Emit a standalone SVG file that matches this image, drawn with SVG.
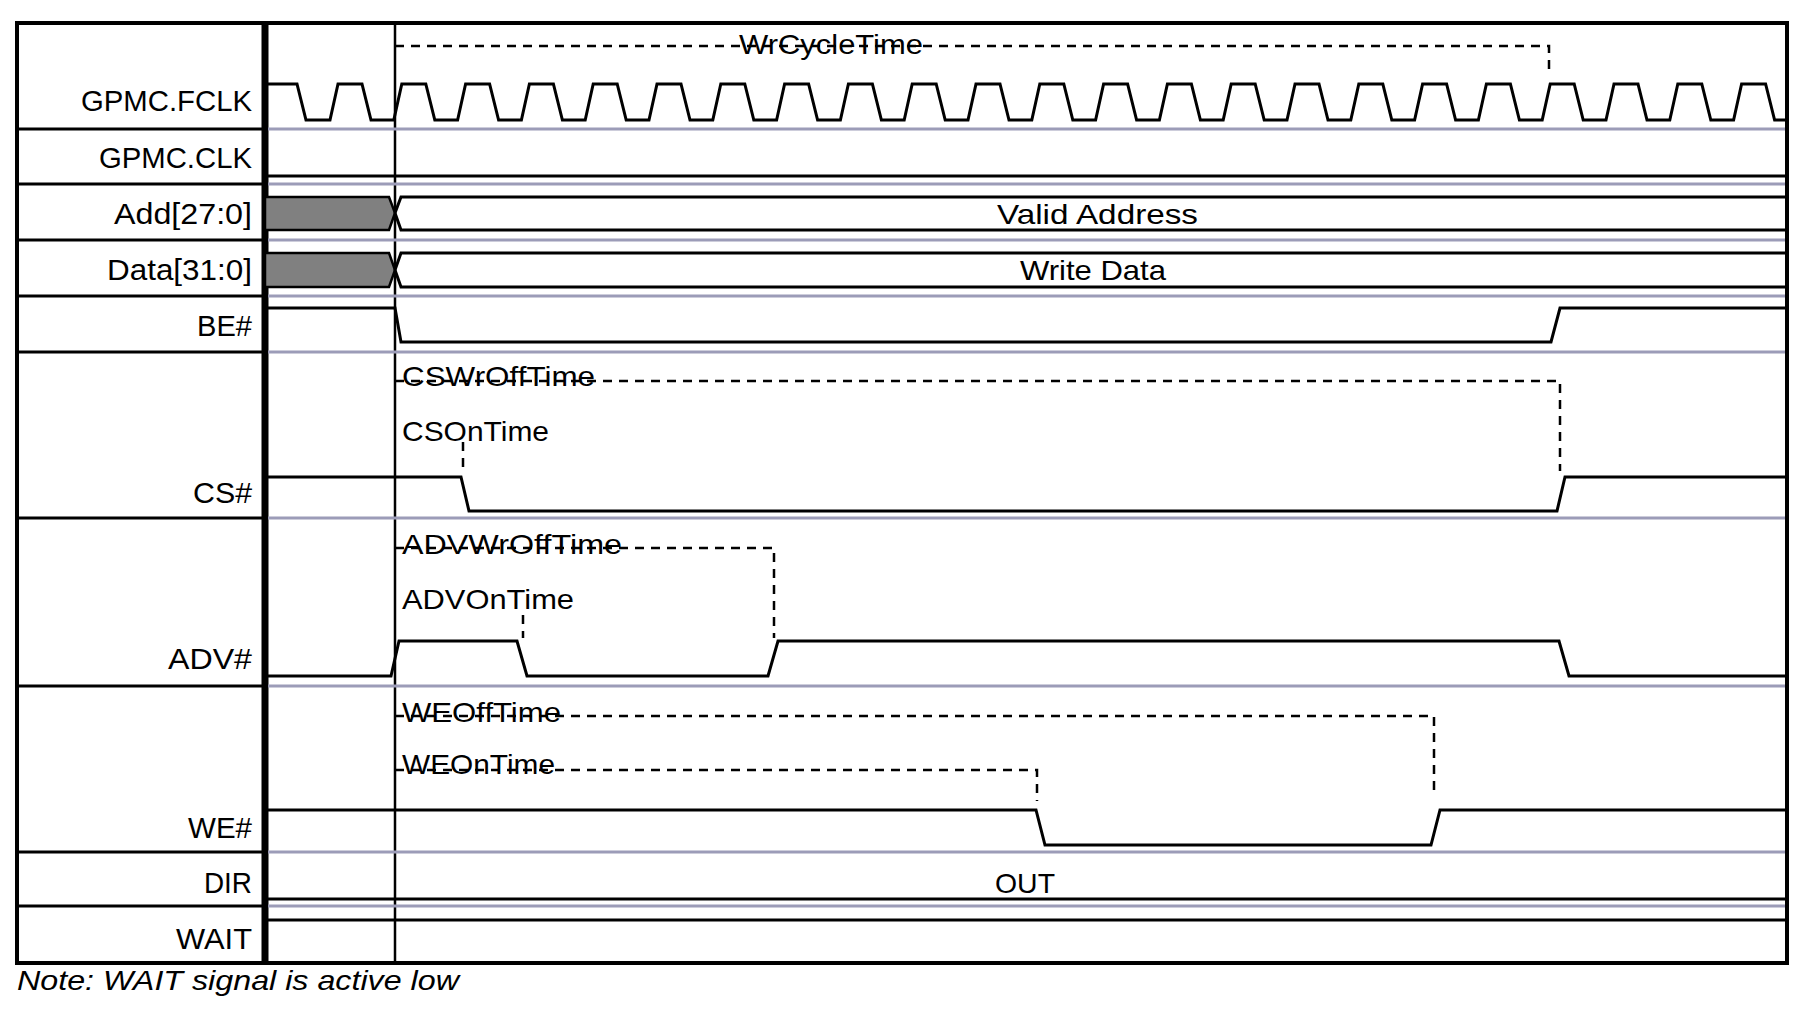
<svg xmlns="http://www.w3.org/2000/svg" width="1800" height="1012" viewBox="0 0 1800 1012">
<style>
.lbl{font-family:"Liberation Sans",Arial,sans-serif;font-size:29px;fill:#000;text-anchor:end}
.t{font-family:"Liberation Sans",Arial,sans-serif;font-size:28px;fill:#000}
.sig{fill:none;stroke:#000;stroke-width:3}
.gr{stroke:#9c9cb8;stroke-width:3}
.sep{stroke:#000;stroke-width:3}
.dash{fill:none;stroke:#000;stroke-width:2.5;stroke-dasharray:9,7}
</style>
<rect width="1800" height="1012" fill="#fff"/>
<g id="frame">
<rect x="17" y="23" width="1770" height="940" fill="none" stroke="#000" stroke-width="4"/>
<line x1="265" y1="21" x2="265" y2="965" stroke="#000" stroke-width="7"/>
<line x1="395" y1="23" x2="395" y2="963" stroke="#000" stroke-width="2.5"/>
<g class="sep">
<line x1="17" y1="129" x2="262" y2="129"/><line x1="17" y1="184" x2="262" y2="184"/>
<line x1="17" y1="240" x2="262" y2="240"/><line x1="17" y1="296" x2="262" y2="296"/>
<line x1="17" y1="352" x2="262" y2="352"/><line x1="17" y1="518" x2="262" y2="518"/>
<line x1="17" y1="686" x2="262" y2="686"/><line x1="17" y1="852" x2="262" y2="852"/>
<line x1="17" y1="906" x2="262" y2="906"/>
</g>
<g class="gr">
<line x1="268" y1="129" x2="1785" y2="129"/><line x1="268" y1="184" x2="1785" y2="184"/>
<line x1="268" y1="240" x2="1785" y2="240"/><line x1="268" y1="296" x2="1785" y2="296"/>
<line x1="268" y1="352" x2="1785" y2="352"/><line x1="268" y1="518" x2="1785" y2="518"/>
<line x1="268" y1="686" x2="1785" y2="686"/><line x1="268" y1="852" x2="1785" y2="852"/>
<line x1="268" y1="906" x2="1785" y2="906"/>
</g>
</g>
<g id="fclk">
<text class="lbl" x="252" y="111" textLength="171" lengthAdjust="spacingAndGlyphs">GPMC.FCLK</text>
<path class="sig" d="M265,84 H297 L306,120 H330 l8,-36 h24 l9,36 h22.8 l8,-36 h24 l9,36 h22.8 l8,-36 h24 l9,36 h22.8 l8,-36 h24 l9,36 h22.8 l8,-36 h24 l9,36 h22.8 l8,-36 h24 l9,36 h22.8 l8,-36 h24 l9,36 h22.8 l8,-36 h24 l9,36 h22.8 l8,-36 h24 l9,36 h22.8 l8,-36 h24 l9,36 h22.8 l8,-36 h24 l9,36 h22.8 l8,-36 h24 l9,36 h22.8 l8,-36 h24 l9,36 h22.8 l8,-36 h24 l9,36 h22.8 l8,-36 h24 l9,36 h22.8 l8,-36 h24 l9,36 h22.8 l8,-36 h24 l9,36 h22.8 l8,-36 h24 l9,36 h22.8 l8,-36 h24 l9,36 h22.8 l8,-36 h24 l9,36 h22.8 l8,-36 h24 l9,36 h22.8 l8,-36 h24 l9,36 h22.8 l8,-36 h24 l9,36 H1787"/>
</g>
<g id="clk">
<text class="lbl" x="252" y="168" textLength="153" lengthAdjust="spacingAndGlyphs">GPMC.CLK</text>
<line class="sig" x1="265" y1="176" x2="1787" y2="176"/>
</g>
<g id="add">
<text class="lbl" x="252" y="224" textLength="138" lengthAdjust="spacingAndGlyphs">Add[27:0]</text>
<polygon points="265,197 389,197 395,213 389,230 265,230" fill="#808080" stroke="#000" stroke-width="2.5"/>
<polyline class="sig" points="1787,197 401,197 395,213 401,230 1787,230"/>
<text class="t" x="997" y="224" textLength="201" lengthAdjust="spacingAndGlyphs">Valid Address</text>
</g>
<g id="data">
<text class="lbl" x="252" y="280" textLength="145" lengthAdjust="spacingAndGlyphs">Data[31:0]</text>
<polygon points="265,253 389,253 395,270 389,287 265,287" fill="#808080" stroke="#000" stroke-width="2.5"/>
<polyline class="sig" points="1787,253 401,253 395,270 401,287 1787,287"/>
<text class="t" x="1020" y="280" textLength="146" lengthAdjust="spacingAndGlyphs">Write Data</text>
</g>
<g id="be">
<text class="lbl" x="252" y="336" textLength="55" lengthAdjust="spacingAndGlyphs">BE#</text>
<polyline class="sig" points="265,308 395,308 401,342 1551,342 1560,308 1787,308"/>
</g>
<g id="cs">
<text class="lbl" x="252" y="503" textLength="59" lengthAdjust="spacingAndGlyphs">CS#</text>
<polyline class="sig" points="265,477 461,477 469,511 1557,511 1565,477 1787,477"/>
<text class="t" x="402" y="386" textLength="193" lengthAdjust="spacingAndGlyphs">CSWrOffTime</text>
<text class="t" x="402" y="441" textLength="147" lengthAdjust="spacingAndGlyphs">CSOnTime</text>
</g>
<g id="adv">
<text class="lbl" x="252" y="669" textLength="84" lengthAdjust="spacingAndGlyphs">ADV#</text>
<polyline class="sig" points="265,676 391,676 399,641 517,641 527,676 768,676 778,641 1559,641 1569,676 1787,676"/>
<text class="t" x="402" y="554" textLength="220" lengthAdjust="spacingAndGlyphs">ADVWrOffTime</text>
<text class="t" x="402" y="609" textLength="172" lengthAdjust="spacingAndGlyphs">ADVOnTime</text>
</g>
<g id="we">
<text class="lbl" x="252" y="838" textLength="64" lengthAdjust="spacingAndGlyphs">WE#</text>
<polyline class="sig" points="265,810 1036,810 1045,845 1431,845 1440,810 1787,810"/>
<text class="t" x="402" y="722" textLength="159" lengthAdjust="spacingAndGlyphs">WEOffTime</text>
<text class="t" x="402" y="774" textLength="153" lengthAdjust="spacingAndGlyphs">WEOnTime</text>
</g>
<g id="dir">
<text class="lbl" x="252" y="893" textLength="48" lengthAdjust="spacingAndGlyphs">DIR</text>
<line class="sig" x1="265" y1="899" x2="1787" y2="899"/>
<text class="t" x="995" y="893" textLength="60" lengthAdjust="spacingAndGlyphs">OUT</text>
</g>
<g id="wait">
<text class="lbl" x="252" y="949" textLength="76" lengthAdjust="spacingAndGlyphs">WAIT</text>
<line class="sig" x1="265" y1="920" x2="1787" y2="920"/>
</g>
<g id="connectors">
<polyline class="dash" points="395,46 1549,46 1549,69"/>
<polyline class="dash" points="395,381 1560,381 1560,471"/>
<polyline class="dash" points="463,442 463,471"/>
<polyline class="dash" points="395,548 774,548 774,638"/>
<polyline class="dash" points="523,615 523,638"/>
<polyline class="dash" points="395,716 1434,716 1434,793"/>
<polyline class="dash" points="395,770 1037,770 1037,801"/>
</g>
<text class="t" x="739" y="54" textLength="184" lengthAdjust="spacingAndGlyphs">WrCycleTime</text>
<text class="t" x="17" y="990" font-style="italic" textLength="442" lengthAdjust="spacingAndGlyphs">Note: WAIT signal is active low</text>
</svg>
